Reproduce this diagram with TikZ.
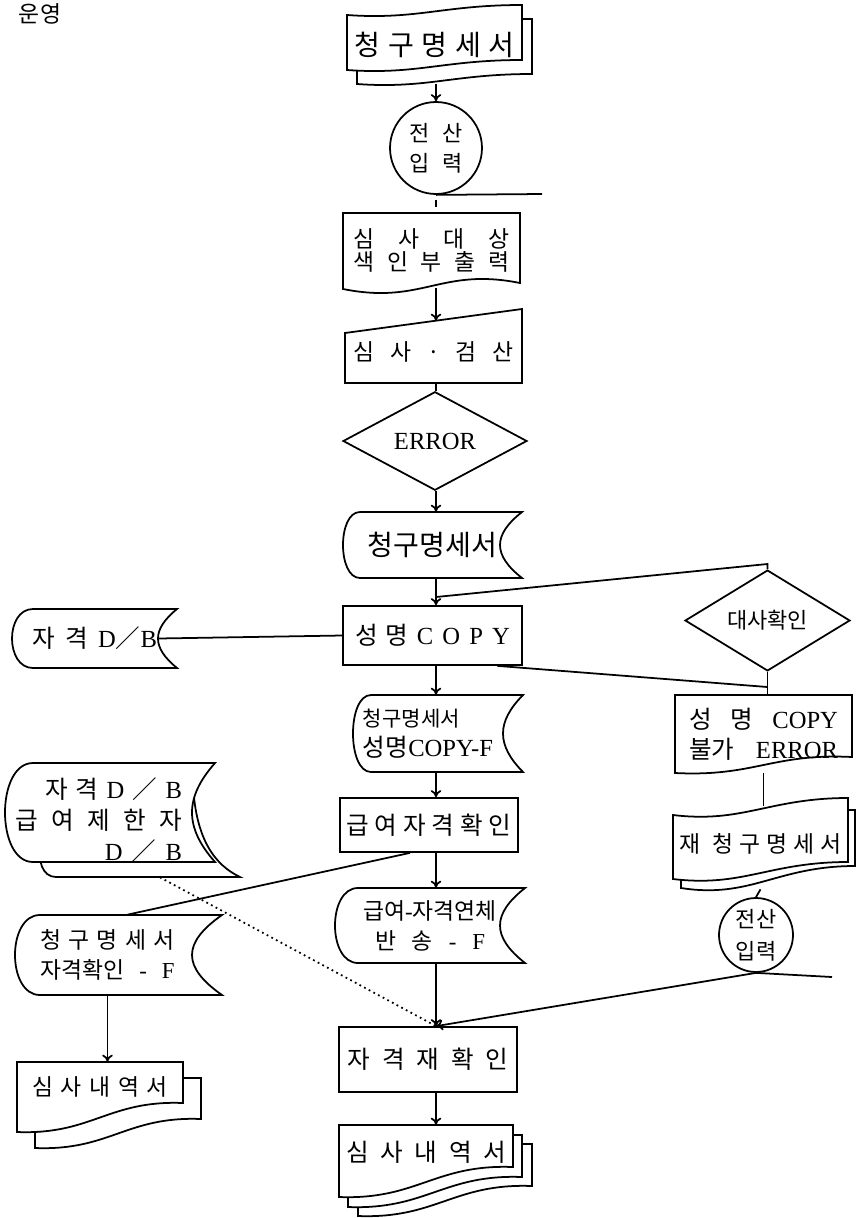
\documentclass[tikz,border=0pt]{standalone}
\usepackage{fontspec}
\setmainfont{Noto Sans CJK KR}
\newfontfamily\latfont{Liberation Serif}
\usetikzlibrary{shapes.geometric,arrows.meta}
\tikzstyle{chart}=[draw, line width=1pt, fill=white]
\tikzstyle{proc}=[chart, rectangle, inner sep=0]
\tikzstyle{decide}=[chart, diamond, inner sep=0]
\tikzstyle{disk}=[chart, circle, inner sep=0, align=center]
\tikzstyle{flow}=[line width=1pt, -{To[length=4pt,width=6pt]}]
\tikzstyle{link}=[line width=1pt]
\tikzstyle{faint}=[line width=1pt, dotted]
\newcommand{\sz}[2]{\fontsize{#1}{#2}\selectfont}
\newcommand{\lat}[1]{{\latfont #1}}
% paper tape: left end lower by #5
\newcommand{\tapesheet}[5]{
  \pgfmathsetmacro\shL{#1}\pgfmathsetmacro\shT{#2}
  \pgfmathsetmacro\shR{#3}\pgfmathsetmacro\shB{#4}
  \draw[chart] (\shL,\shT+#5)
    .. controls ({\shL+0.4*(\shR-\shL)},{\shT+1.5*#5}) and ({\shL+0.55*(\shR-\shL)},\shT) .. (\shR,\shT)
    -- (\shR,\shB)
    .. controls ({\shL+0.55*(\shR-\shL)},\shB) and ({\shL+0.4*(\shR-\shL)},{\shB+1.5*#5}) .. (\shL,\shB+#5)
    -- cycle;
}
% document: wavy bottom
\newcommand{\docsheet}[6]{
  \pgfmathsetmacro\shL{#1}\pgfmathsetmacro\shT{#2}
  \pgfmathsetmacro\shR{#3}\pgfmathsetmacro\shB{#4}\pgfmathsetmacro\shC{#5}
  \draw[chart] (\shL,\shT) -- (\shR,\shT) -- (\shR,\shB)
    .. controls ({\shL+0.55*(\shR-\shL)},{\shB-#6}) and ({\shL+0.45*(\shR-\shL)},{\shC+#6}) .. (\shL,\shC)
    -- cycle;
}
% stored data: round left, hollow right
\newcommand{\storesheet}[6]{
  \pgfmathsetmacro\shL{#1}\pgfmathsetmacro\shT{#2}
  \pgfmathsetmacro\shR{#3}\pgfmathsetmacro\shB{#4}
  \draw[chart] (\shL+#5,\shT) -- (\shR,\shT)
    .. controls ({\shR-1.333*#6},{\shT+0.35*(\shB-\shT)}) and ({\shR-1.333*#6},{\shB-0.35*(\shB-\shT)}) .. (\shR,\shB)
    -- (\shL+#5,\shB)
    .. controls ({\shL-#5/3},\shB) and ({\shL-#5/3},\shT) .. cycle;
}
\newcommand{\boxnode}[7][]{
  \node[inner sep=0, align=center, minimum width={(#5-#3)*0.02cm}, minimum height={(#6-#4)*0.02cm}, #1]
    (#2) at ({(#3+#5)/2},{(#4+#6)/2}) {#7};
}
\begin{document}
\begin{tikzpicture}[x=0.02cm, y=-0.02cm, font=\sz{14}{17}]
  \useasboundingbox (0,0) rectangle (856,1218);
  \coordinate (col) at (436,0);
  \node[font=\sz{13}{16}] (title) at (40,14) {운영};

  % main column
  \tapesheet{357}{19}{532}{74}{10}
  \tapesheet{347}{5}{522}{60}{10}
  \boxnode[font=\sz{16}{19}]{claim}{347}{5}{522}{84}{\makebox[3.2cm][s]{청 구 명 세 서}}
  \node[disk, minimum size=1.84cm, font=\sz{12.5}{17}] (entry) at (436,148) {\makebox[1.08cm][s]{전 산}\\\makebox[1.08cm][s]{입 력}};
  \coordinate (entryout) at (542,194);

  \docsheet{343}{213}{520}{283}{289}{16}
  \boxnode[font=\sz{13}{13.6}]{index}{343}{213}{520}{288}{\makebox[3.12cm][s]{심 사 대 상}\\\makebox[3.12cm][s]{색 인 부 출 력}}

  \draw[chart] (345,333) -- (522,309) -- (522,383) -- (345,383) -- cycle;
  \boxnode[font=\sz{13}{16}]{audit}{345}{321}{522}{383}{\makebox[3.2cm][s]{심 사 · 검 산}}

  \node[decide, minimum width=3.68cm, minimum height=1.74cm] (err) at (435,441) {\lat{ERROR}};

  \storesheet{343}{512}{522}{578}{17}{22}
  \boxnode[font=\sz{16}{19}]{claimf}{343}{512}{522}{578}{청구명세서}

  \node[proc, minimum width=3.58cm, minimum height=1.18cm] (copy) at (432.5,635.5) {\makebox[3.1cm][s]{성 명 \lat{C O P Y}}};

  \storesheet{353}{695}{523}{772}{18}{20}
  \boxnode[align=left, xshift=-0.2cm]{copyf}{353}{695}{523}{772}{{\sz{12}{17}청구명세서}\\성명\lat{COPY-F}}

  \node[proc, minimum width=3.56cm, minimum height=1.08cm] (check) at (429,825) {\makebox[3.3cm][s]{급 여 자 격 확 인}};

  \storesheet{335}{888}{525}{963}{23}{25}
  \boxnode[font=\sz{13}{17}]{refund}{335}{888}{525}{963}{급여\lat{-}자격연체\\\makebox[2.2cm][s]{반 송 \lat{-} \lat{F}}}

  \node[proc, minimum width=3.56cm, minimum height=1.3cm] (recheck) at (428,1059.5) {\makebox[3.22cm][s]{자 격 재 확 인}};

  \docsheet{358}{1144}{532}{1186}{1216}{3}
  \docsheet{348}{1135}{522}{1177}{1207}{3}
  \docsheet{339}{1125}{513}{1167}{1197}{3}
  \boxnode{reviewb}{339}{1125}{513}{1180}{\makebox[3.2cm][s]{심 사 내 역 서}}

  % right column
  \node[decide, minimum width=3.3cm, minimum height=1.58cm, font=\sz{12.5}{15}] (match) at (767.5,620.5) {대사확인};
  \coordinate (tap) at (436,597);
  \coordinate (bend) at (767.5,564);
  \coordinate (merge) at (767.5,687);

  \docsheet{675}{695}{852}{757}{773}{4}
  \boxnode{copyerr}{675}{695}{852}{773}{\makebox[2.98cm][s]{성 명 \lat{COPY}}\\\makebox[2.98cm][s]{불가 \lat{ERROR}}}

  \tapesheet{681}{810}{855}{866}{22}
  \tapesheet{673}{798}{848}{862}{17}
  \boxnode[font=\sz{13}{16}]{reclaim}{673}{798}{848}{889}{\makebox[3.26cm][s]{재 \ 청 구 명 세 서}}

  \node[disk, minimum size=1.48cm, font=\sz{12.5}{18}] (entryb) at (756,935) {전산\\입력};
  \coordinate (entrybout) at (832,977);

  % left column
  \storesheet{12}{609}{177}{668}{21}{19}
  \boxnode{dbq}{12}{609}{177}{668}{\makebox[2.5cm][s]{자 격 \lat{D}／\lat{B}}}

  \draw[link] (193,785) .. controls (196,840) and (215,865) .. (240,877) -- (56,877) .. controls (42,877) and (38,860) .. (40,845);
  \storesheet{5}{763}{215}{862}{28}{23}
  \boxnode[align=right, font=\sz{14}{17.5}]{limit}{5}{763}{192}{877}{\makebox[2.74cm][s]{자 격 \lat{D} ／ \lat{B}}\\\makebox[3.34cm][s]{급 여 제 한 자}\\\makebox[1.54cm][s]{\lat{D} ／ \lat{B}}}

  \storesheet{15}{915}{222}{995}{25}{30}
  \boxnode[align=left, font=\sz{13}{17.5}]{qualf}{15}{915}{200}{995}{\makebox[2.68cm][s]{청 구 명 세 서}\\\makebox[2.68cm][s]{자격확인 \lat{-} \lat{F}}}

  \docsheet{35}{1078}{201}{1119}{1148}{3}
  \docsheet{17}{1062}{183}{1103}{1132}{3}
  \boxnode[font=\sz{13}{16}]{reviewa}{17}{1062}{183}{1112}{\makebox[2.72cm][s]{심 사 내 역 서}}

  % connectors
  \draw[flow] (claim.south -| col) -- (entry.north -| col);
  \draw[link] (entry.south) -- (entryout);
  \draw[link, shorten <=0.1cm, shorten >=0.12cm] (entry.south) -- (index.north -| entry.south);
  \draw[flow] (index.south -| col) -- (audit.north -| col);
  \draw[link] (audit.south -| col) -- (err.north -| col);
  \draw[flow] (err.south -| col) -- (claimf.north -| col);
  \draw[flow] (claimf.south -| col) -- (copy.north -| col);
  \draw[link] (tap) -- (bend) -- (match.north);
  \draw[link] (match.south) -- (copyerr.north -| match.south);
  \draw[link] ([xshift=1.3cm]copy.south) -- (merge);
  \draw[link] ([xshift=-0.38cm]dbq.east) -- (copy.west);
  \draw[flow] (copy.south -| col) -- (copyf.north -| col);
  \draw[flow] (copyf.south -| col) -- (check.north -| col);
  \draw[flow] (check.south -| col) -- (refund.north -| col);
  \draw[link] ([xshift=-0.38cm]check.south) -- ([xshift=0.4cm]qualf.north);
  \draw[flow] (qualf.south) -- (qualf.south |- reviewa.north);
  \draw[flow] (refund.south -| col) -- (recheck.north -| col);
  \draw[faint] ([xshift=1.23cm]limit.south) -- (recheck.north -| col);
  \draw[link, shorten >=-0.16cm] (copyerr.south) -- (copyerr.south |- reclaim.north);
  \draw[link] (reclaim.south) -- (entryb.north);
  \draw[link] (entryb.south) -- (entrybout);
  \draw[flow] (entryb.south) -- (recheck.north -| col);
  \draw[flow] (recheck.south -| col) -- (reviewb.north -| col);
\end{tikzpicture}
\end{document}
